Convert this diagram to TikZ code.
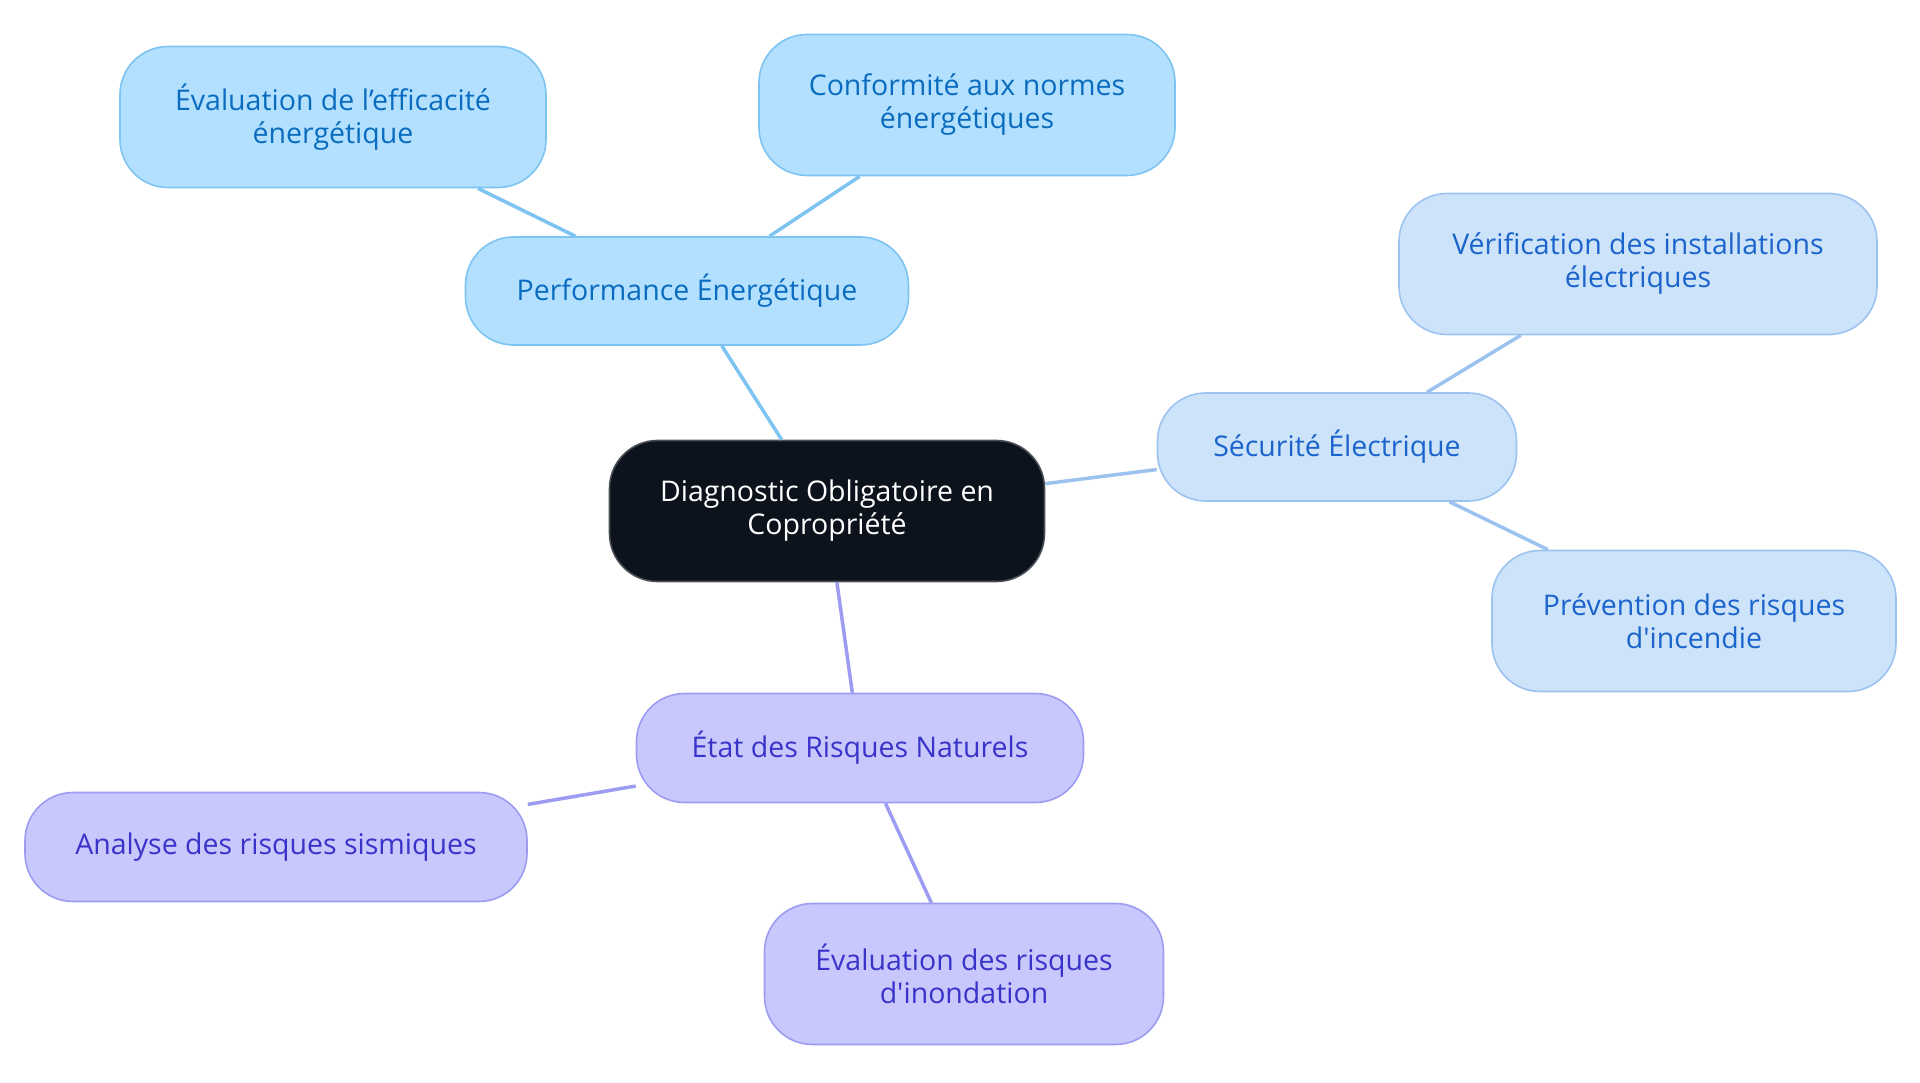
\documentclass[tikz,border=0pt]{standalone}
\usepackage{fontspec}
\setmainfont{Open Sans}[Ligatures=TeXOff]
\usepackage{tikz}

\definecolor{perfFill}{HTML}{B3E0FF}
\definecolor{perfLine}{HTML}{7DC4F2}
\definecolor{perfText}{HTML}{0A6CBE}
\definecolor{secuFill}{HTML}{CDE3FA}
\definecolor{secuLine}{HTML}{9CC3F0}
\definecolor{secuText}{HTML}{1A64CC}
\definecolor{etatFill}{HTML}{C8C8FD}
\definecolor{etatLine}{HTML}{9C9CF2}
\definecolor{etatText}{HTML}{3A33C9}
\definecolor{rootFill}{HTML}{0D131C}
\definecolor{rootLine}{HTML}{4A4E55}

\begin{document}
\begin{tikzpicture}[x=1pt, y=-1pt,
  box/.style = {rounded corners=48pt, line width=1.6pt, align=center, inner sep=0pt,
                font=\fontsize{28.5}{33}\selectfont},
  perf/.style = {box, fill=perfFill, draw=perfLine, text=perfText},
  secu/.style = {box, fill=secuFill, draw=secuLine, text=secuText},
  etat/.style = {box, fill=etatFill, draw=etatLine, text=etatText},
  root/.style = {box, fill=rootFill, draw=rootLine, text=white},
  perfEdge/.style = {line width=3.5pt, draw=perfLine},
  secuEdge/.style = {line width=3.5pt, draw=secuLine},
  etatEdge/.style = {line width=3.5pt, draw=etatLine}]

\useasboundingbox (0,0) rectangle (1920,1083);

% centre
\node[root, minimum width=435pt, minimum height=141pt] (diag) at (827,511) {Diagnostic Obligatoire en\\Copropriété};

% branche performance
\node[perf, minimum width=443pt, minimum height=108pt] (perf) at (687,291) {Performance Énergétique};
\node[perf, minimum width=426pt, minimum height=141pt] (effic) at (333,117) {Évaluation de l’efficacité\\énergétique};
\node[perf, minimum width=416pt, minimum height=141pt] (normes) at (967,105) {Conformité aux normes\\énergétiques};

% branche securite
\node[secu, minimum width=359pt, minimum height=108pt] (secu) at (1337,447) {Sécurité Électrique};
\node[secu, minimum width=478pt, minimum height=141pt] (verif) at (1638,264) {Vérification des installations\\électriques};
\node[secu, minimum width=404pt, minimum height=141pt] (incendie) at (1694,621) {Prévention des risques\\d'incendie};

% branche risques
\node[etat, minimum width=447pt, minimum height=109pt] (etat) at (860,748) {État des Risques Naturels};
\node[etat, minimum width=502pt, minimum height=109pt] (sism) at (276,847) {Analyse des risques sismiques};
\node[etat, minimum width=399pt, minimum height=141pt] (inond) at (964,974) {Évaluation des risques\\d'inondation};

\draw[perfEdge] (diag) -- (perf);
\draw[perfEdge] (perf) -- (effic);
\draw[perfEdge] (perf) -- (normes);
\draw[secuEdge] (diag) -- (secu);
\draw[secuEdge] (secu) -- (verif);
\draw[secuEdge] (secu) -- (incendie);
\draw[etatEdge] (diag) -- (etat);
\draw[etatEdge] (etat) -- (sism);
\draw[etatEdge] (etat) -- (inond);
\end{tikzpicture}
\end{document}
